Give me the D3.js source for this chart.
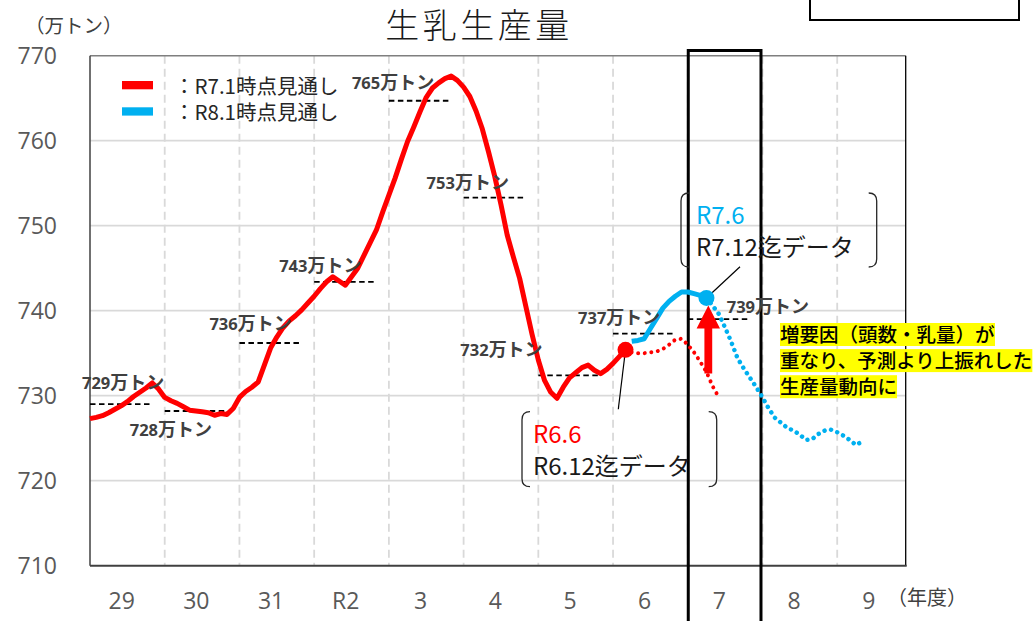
<!DOCTYPE html>
<html><head><meta charset="utf-8">
<script src="https://cdn.jsdelivr.net/npm/d3@7"></script>
<style>body{margin:0;background:#fff;} svg{display:block;}</style>
</head><body><svg id="c" width="1035" height="621"></svg>
<script>
// ---------------- data ----------------
const years = ["29","30","31","R2","3","4","5","6","7","8","9"];
const yTicks = [710,720,730,740,750,760,770];
// monthly index 0 = H29.4
const r71ActualStart = 0;
const r71Actual = [727.3,727.45,727.65,728.0,728.4,728.8,729.3,729.9,730.4,730.9,731.5,730.8,
  729.8,729.4,729.1,728.7,728.3,728.2,728.1,728.0,727.7,727.9,727.8,728.5,
  729.8,730.5,731.0,731.6,733.6,735.6,736.9,738.0,738.8,739.4,740.1,740.9,
  741.7,742.6,743.4,744.0,743.5,743.0,744.0,745.0,746.5,748.0,749.5,751.6,
  753.6,755.6,757.8,759.9,761.6,763.4,765.1,766.2,766.8,767.3,767.6,767.1,
  766.3,765.2,763.5,761.4,758.7,755.8,752.5,748.9,746.3,743.8,740.5,737.2,
  734.2,731.8,730.4,729.7,731.0,732.1,732.7,733.3,733.6,733.0,732.6,733.1,
  733.8,734.6,735.4];
const r71ForecastStart = 86;
const r71Forecast = [735.4,735.1,735.0,735.0,735.1,735.2,735.5,736.0,736.6,736.7,736.0,735.1,734.0,732.8,731.1,729.8];
const r81ActualStart = 87;
const r81Actual = [736.4,736.5,736.7,737.9,739.1,740.3,741.1,741.7,742.2,742.2,742.0,741.8,741.5];
const r81ForecastStart = 99;
const r81Forecast = [741.5,740.6,739.6,738.0,736.3,734.4,733.2,732.1,731.0,729.8,728.5,727.4,
  726.8,726.2,725.9,725.4,724.8,724.9,725.5,725.9,726.0,725.7,725.3,724.8,724.2,724.6];
const annualAvg = [729.0,728.2,736.2,743.4,764.7,753.3,732.4,737.3,739.0];
const annualLabels = ["729万トン","728万トン","736万トン","743万トン","765万トン","753万トン","732万トン","737万トン","739万トン"];
const legendLabels = ["：R7.1時点見通し","：R8.1時点見通し"];
const arrowData = {month:99.3, from:732.6, to:740.6};

// ---------------- layout ----------------
const M = {left:90, right:905.7, top:55.7, bottom:565.7};
const x = d3.scaleLinear().domain([0,131]).range([M.left, M.right]);
const y = d3.scaleLinear().domain([710,770]).range([M.bottom, M.top]);
const svg = d3.select("#c");
const JP = "'Noto Sans CJK JP', sans-serif";
const NUM = "'Open Sans', 'Noto Sans CJK JP', sans-serif";
const RED = "#ff0000", BLUE = "#00b0f0";
// label offsets (dx, dy of text centre relative to start of each annual dashed line)
const annualLabelOffsets = [[-8,-21],[-35,19],[-30,-19],[-35,-16],[-37,-18],[-37,-15],[-78,-25],[-35,-16],[39,-12]];

// title
svg.append("text").attr("x",479).attr("y",38).attr("text-anchor","middle")
  .attr("font-family",JP).attr("font-size",34).attr("font-weight",300).attr("letter-spacing",3.5).attr("fill","#1a1a1a").text("生乳生産量");
svg.append("text").attr("x",25).attr("y",33).attr("font-family",JP).attr("font-size",19.5).attr("fill","#404040").text("（万トン）");
// top-right empty box
svg.append("rect").attr("x",810).attr("y",-5).attr("width",209).attr("height",25)
  .attr("fill","none").attr("stroke","#000").attr("stroke-width",2);

// grid
svg.append("g").selectAll("line").data(yTicks.filter(v=>v>710 && v<770)).join("line")
  .attr("x1",M.left).attr("x2",M.right).attr("y1",d=>y(d)).attr("y2",d=>y(d))
  .attr("stroke","#d9d9d9").attr("stroke-width",1.8);
svg.append("g").selectAll("line").data(d3.range(1,years.length)).join("line")
  .attr("x1",d=>x(12*d)).attr("x2",d=>x(12*d)).attr("y1",M.top).attr("y2",M.bottom)
  .attr("stroke","#d9d9d9").attr("stroke-width",1.8).attr("stroke-dasharray","8,5");
// borders
svg.append("line").attr("x1",M.left).attr("x2",M.right).attr("y1",y(770)).attr("y2",y(770)).attr("stroke","#7f7f7f").attr("stroke-width",1.5);
svg.append("line").attr("x1",M.right).attr("x2",M.right).attr("y1",M.top).attr("y2",M.bottom).attr("stroke","#000").attr("stroke-width",1.3);
svg.append("line").attr("x1",M.left).attr("x2",M.left).attr("y1",M.top).attr("y2",M.bottom).attr("stroke","#404040").attr("stroke-width",1.5);
svg.append("line").attr("x1",M.left).attr("x2",M.right+1).attr("y1",M.bottom).attr("y2",M.bottom).attr("stroke","#404040").attr("stroke-width",2);

// axes labels
const yAxis = svg.append("g").attr("transform",`translate(${M.left},0)`)
  .call(d3.axisLeft(y).tickValues(yTicks).tickSize(0).tickPadding(33).tickFormat(d3.format("d")));
yAxis.select(".domain").remove();
yAxis.selectAll("text").attr("font-family",NUM).attr("font-size",23).attr("fill","#595959");
const xAxis = svg.append("g").attr("transform",`translate(0,${M.bottom})`)
  .call(d3.axisBottom(x).tickValues(years.map((d,i)=>12*i+5)).tickFormat((d,i)=>years[i]).tickSize(0).tickPadding(27));
xAxis.select(".domain").remove();
xAxis.selectAll("text").attr("font-family",NUM).attr("font-size",23).attr("fill","#595959");
svg.append("text").attr("x",887).attr("y",605).attr("font-family",JP).attr("font-size",20).attr("fill","#404040").text("（年度）");

// R7 highlight frame
svg.append("rect").attr("x",x(96)+0.5).attr("y",50.5).attr("width",x(108)-x(96)-2).attr("height",600)
  .attr("fill","none").attr("stroke","#000").attr("stroke-width",3);

// annual dashed lines
svg.append("g").selectAll("line").data(annualAvg).join("line")
  .attr("x1",(d,i)=>x(12*i)).attr("x2",(d,i)=>x(12*i+10)).attr("y1",d=>y(d)).attr("y2",d=>y(d))
  .attr("stroke","#000").attr("stroke-width",1.8).attr("stroke-dasharray","5.5,3.5");

// series
const lineGen = start => d3.line().x((d,i)=>x(start+i)).y(d=>y(d));
svg.append("path").attr("d",lineGen(r71ForecastStart)(r71Forecast)).attr("fill","none")
  .attr("stroke",RED).attr("stroke-width",4).attr("stroke-linecap","round").attr("stroke-dasharray","0.01,6.6");
svg.append("path").attr("d",lineGen(r81ForecastStart)(r81Forecast)).attr("fill","none")
  .attr("stroke",BLUE).attr("stroke-width",4.5).attr("stroke-linecap","round").attr("stroke-dasharray","0.01,6.6");
svg.append("path").attr("d",lineGen(r71ActualStart)(r71Actual)).attr("fill","none")
  .attr("stroke",RED).attr("stroke-width",5).attr("stroke-linejoin","round");
svg.append("path").attr("d",lineGen(r81ActualStart)(r81Actual)).attr("fill","none")
  .attr("stroke",BLUE).attr("stroke-width",5).attr("stroke-linejoin","round");

// leader lines
const redPt = [x(r71ForecastStart), y(r71Forecast[0])];
const bluePt = [x(r81ForecastStart), y(r81Forecast[0])];
svg.append("line").attr("x1",618.3).attr("y1",409.3).attr("x2",redPt[0]).attr("y2",redPt[1]).attr("stroke","#000").attr("stroke-width",1.2);
svg.append("line").attr("x1",740).attr("y1",266.7).attr("x2",bluePt[0]).attr("y2",bluePt[1]).attr("stroke","#000").attr("stroke-width",1.2);
// markers
svg.append("circle").attr("cx",redPt[0]).attr("cy",redPt[1]).attr("r",8).attr("fill",RED);
svg.append("circle").attr("cx",bluePt[0]).attr("cy",bluePt[1]).attr("r",8).attr("fill",BLUE);

// red arrow
{
  const ax = x(arrowData.month), yb = y(arrowData.from), yt = y(arrowData.to);
  const hw = 11.7, sw = 3.9, hl = 23;
  const p = d3.path();
  p.moveTo(ax-sw,yb); p.lineTo(ax-sw,yt+hl); p.lineTo(ax-hw,yt+hl); p.lineTo(ax,yt);
  p.lineTo(ax+hw,yt+hl); p.lineTo(ax+sw,yt+hl); p.lineTo(ax+sw,yb); p.closePath();
  svg.append("path").attr("d",p.toString()).attr("fill",RED);
}

// annual labels
svg.append("g").selectAll("text").data(annualLabels).join("text")
  .attr("x",(d,i)=>x(12*i)+annualLabelOffsets[i][0])
  .attr("y",(d,i)=>y(annualAvg[i])+annualLabelOffsets[i][1]+6)
  .attr("font-family",NUM).attr("font-size",16.5).attr("font-weight","bold").attr("fill","#404040")
  .each(function(d){
    const t = d3.select(this);
    t.append("tspan").text(d.slice(0,3));
    t.append("tspan").attr("font-family",JP).attr("font-size",18).text(d.slice(3));
  });

// legend
[RED,BLUE].forEach((c,i)=>{
  svg.append("rect").attr("x",122).attr("y",81+i*26.3).attr("width",31).attr("height",8.3).attr("fill",c);
  svg.append("text").attr("x",174).attr("y",93.5+i*26).attr("font-family",JP).attr("font-size",20.5).attr("fill","#262626").text(legendLabels[i]);
});

// bracket annotations
function bracket(x0,x1,y0,y1){
  const r = 8;
  const g = svg.append("g").attr("fill","none").attr("stroke","#262626").attr("stroke-width",1.3);
  g.append("path").attr("d",`M${x0+r},${y0} Q${x0},${y0} ${x0},${y0+r} L${x0},${y1-r} Q${x0},${y1} ${x0+r},${y1}`);
  g.append("path").attr("d",`M${x1-r},${y0} Q${x1},${y0} ${x1},${y0+r} L${x1},${y1-r} Q${x1},${y1} ${x1-r},${y1}`);
}
bracket(522,716.7,411.7,486.7);
bracket(681,876.7,193,267);
svg.append("text").attr("x",533).attr("y",443.3).attr("font-family",JP).attr("font-size",24).attr("fill",RED).text("R6.6");
svg.append("text").attr("x",533).attr("y",475).attr("font-family",JP).attr("font-size",24).attr("fill","#1a1a1a").text("R6.12迄データ");
svg.append("text").attr("x",696).attr("y",224.3).attr("font-family",JP).attr("font-size",24).attr("fill",BLUE).text("R7.6");
svg.append("text").attr("x",696).attr("y",256).attr("font-family",JP).attr("font-size",24).attr("fill","#1a1a1a").text("R7.12迄データ");

// highlighted note
const noteLines = ["増要因（頭数・乳量）が","重なり、予測より上振れした","生産量動向に"];
noteLines.forEach((t,i)=>{
  const g = svg.append("g");
  const cy = 334.5 + i*26.1;
  const tx = g.append("text").attr("x",780).attr("y",cy+7.5).attr("font-family",JP).attr("font-size",19.5)
    .attr("font-weight",500).attr("fill","#000").text(t);
  const bb = tx.node().getBBox();
  g.insert("rect","text").attr("x",bb.x).attr("y",cy-11.5).attr("width",bb.width).attr("height",23).attr("fill","#ffff00");
});
</script>
</body></html>
